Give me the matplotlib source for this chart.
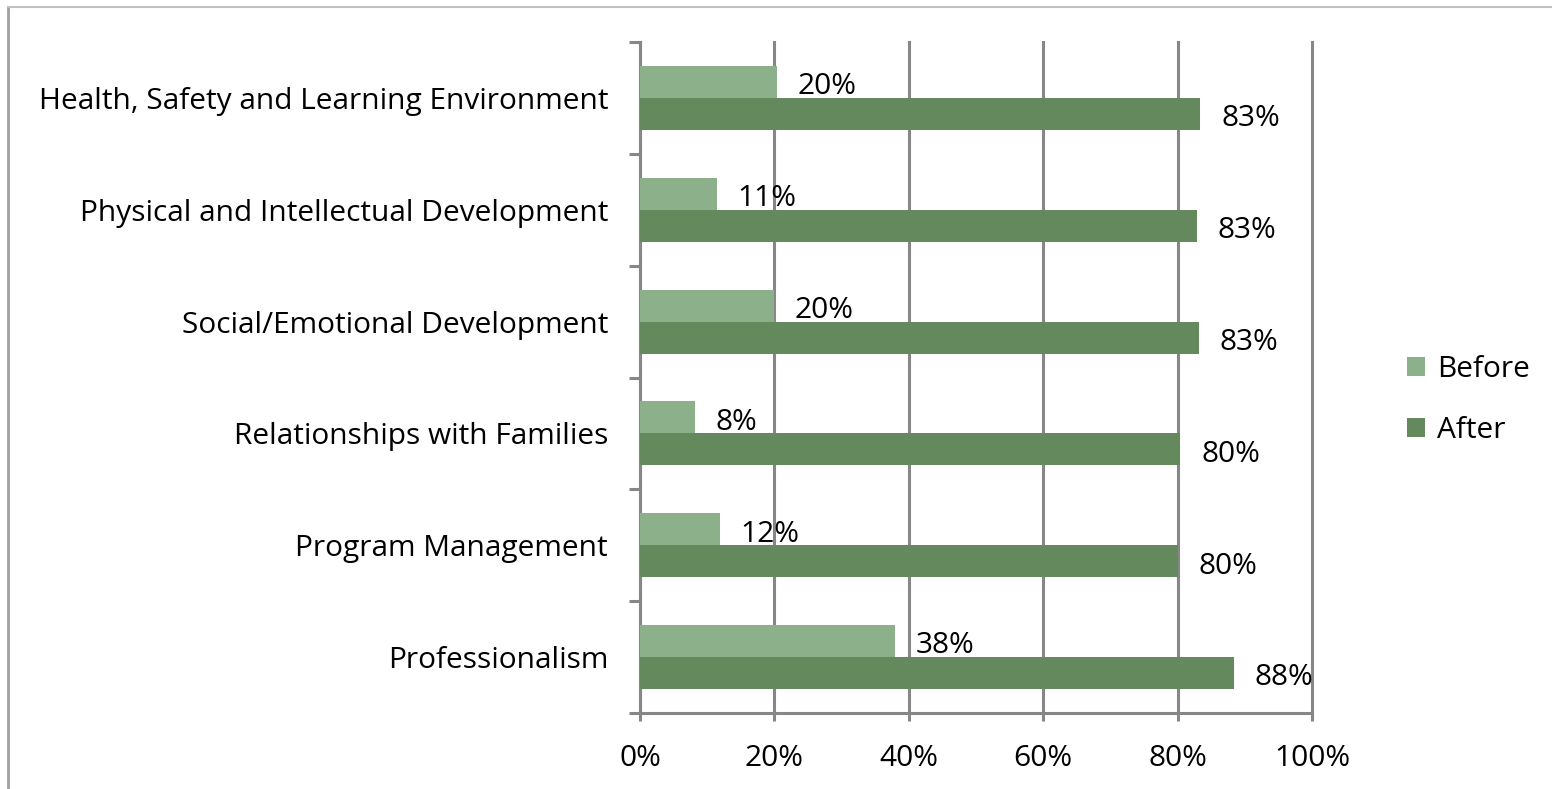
import matplotlib.pyplot as plt
from matplotlib.lines import Line2D
import numpy as np

categories = [
    "Health, Safety and Learning Environment",
    "Physical and Intellectual Development",
    "Social/Emotional Development",
    "Relationships with Families",
    "Program Management",
    "Professionalism",
]
before = [0.204, 0.114, 0.199, 0.082, 0.119, 0.379]
after = [0.834, 0.829, 0.832, 0.804, 0.800, 0.884]
series_names = ["Before", "After"]
x_ticks = [0, 0.2, 0.4, 0.6, 0.8, 1.0]

plt.rcParams['font.family'] = ['Open Sans', 'DejaVu Sans']

c_before = '#8cb08a'
c_after = '#63895d'
grey = '#878787'
fs = 21.5

fig = plt.figure(figsize=(15.52, 7.89), dpi=100)
ax = fig.add_axes([640 / 1552, 1 - 713 / 789, 672 / 1552, 671 / 789])

y = np.arange(len(categories))
h = 0.286
b1 = ax.barh(y - h / 2, before, height=h, color=c_before, label=series_names[0], zorder=3)
b2 = ax.barh(y + h / 2, after, height=h, color=c_after, label=series_names[1], zorder=3)

# value labels to the right of each bar
for bars, vals in ((b1, before), (b2, after)):
    for bar, v in zip(bars, vals):
        ax.annotate(f"{v:.0%}", (v, bar.get_y() + bar.get_height() / 2),
                    xytext=(15, -3.5), textcoords='offset points',
                    ha='left', va='center', fontsize=fs, color='black')

ax.set_xlim(0, 1)
ax.set_ylim(len(categories) - 0.5, -0.5)
ax.set_xticks(x_ticks)
ax.set_xticklabels([f"{t:.0%}" for t in x_ticks], fontsize=fs)
ax.set_yticks(y)
ax.set_yticklabels(categories, fontsize=fs)
ax.set_yticks(np.arange(-0.5, len(categories)), minor=True)

ax.tick_params(axis='y', which='major', length=0, pad=23)
ax.tick_params(axis='y', which='minor', length=8, width=2.2, color=grey)
ax.tick_params(axis='x', length=6, width=2.2, color=grey, pad=16)

ax.grid(axis='x', color=grey, linewidth=2.2, zorder=0)
for gl in ax.xaxis.get_gridlines():
    gl.set_clip_on(False)
for side in ('top', 'right'):
    ax.spines[side].set_visible(False)
for side in ('left', 'bottom'):
    ax.spines[side].set_color(grey)
    ax.spines[side].set_linewidth(2.2)

fig.legend(handles=[b1, b2], loc='center left', bbox_to_anchor=(1407 / 1552, 1 - 400 / 789),
           frameon=False, fontsize=fs, handlelength=0.6, handleheight=0.6,
           handletextpad=0.4, labelspacing=1.05, borderpad=0, borderaxespad=0)

# outer frame of the original slide
fig.add_artist(Line2D([8 / 1552, 8 / 1552], [0, 1 - 7 / 789], transform=fig.transFigure,
                      color='#a0a0a0', linewidth=2))
fig.add_artist(Line2D([8 / 1552, 1], [1 - 7 / 789, 1 - 7 / 789], transform=fig.transFigure,
                      color='#c0c0c0', linewidth=1.5))

fig.savefig('out.png', dpi=100)
